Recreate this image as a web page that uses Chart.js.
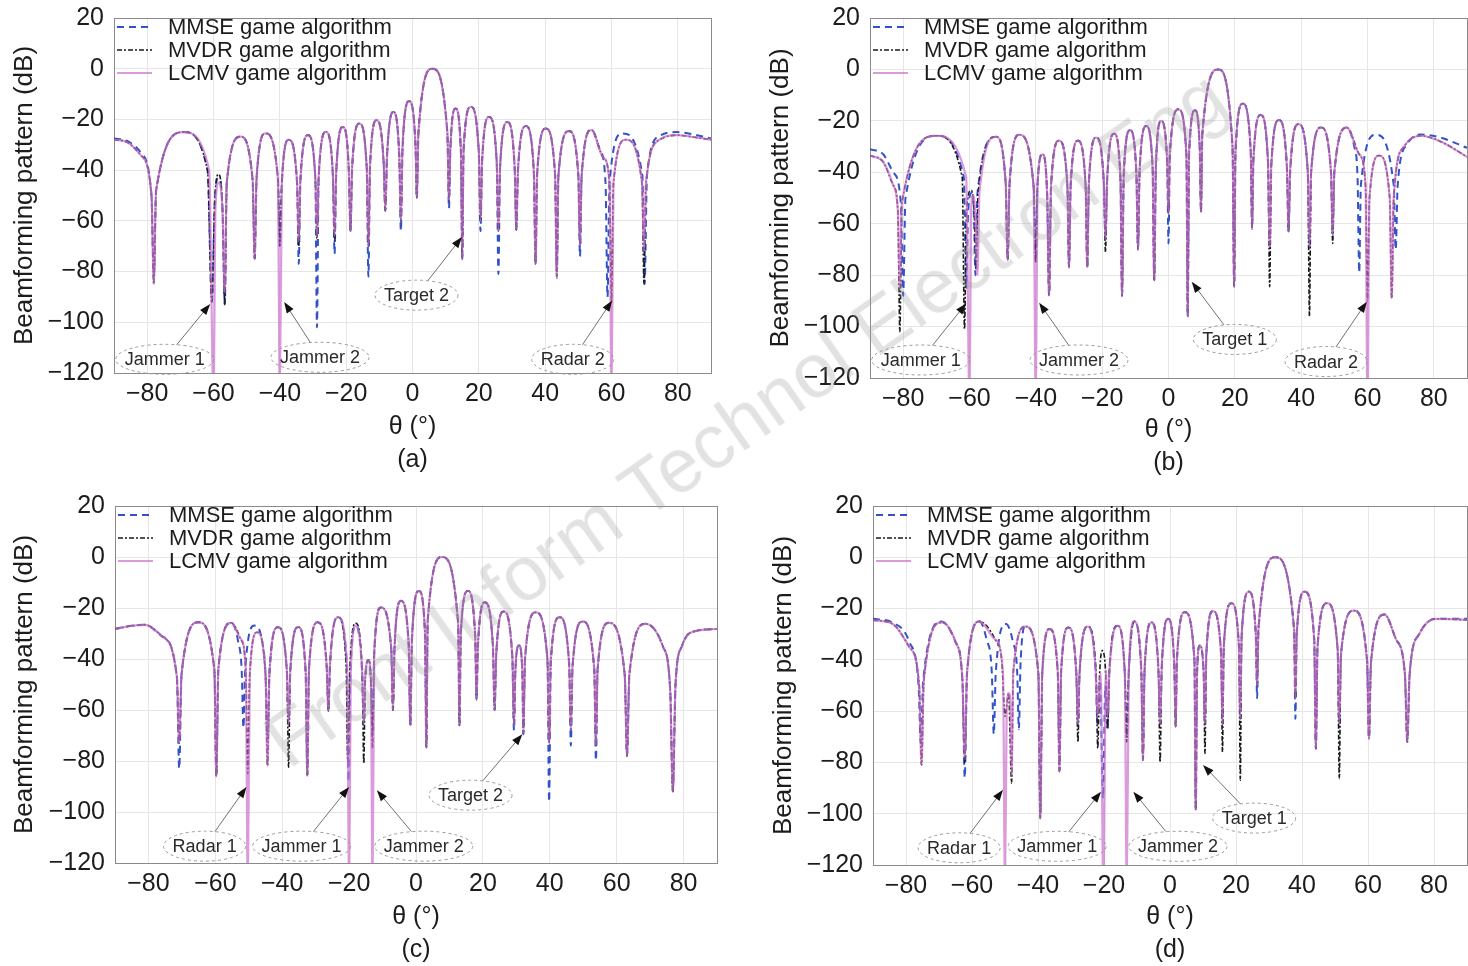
<!DOCTYPE html>
<html>
<head>
<meta charset="utf-8">
<script src="https://cdn.jsdelivr.net/npm/chart.js@4.4.1/dist/chart.umd.min.js"></script>
<style>
  html, body { margin: 0; padding: 0; background: #fff; }
  #wrap { position: relative; width: 1468px; height: 966px; overflow: hidden; }
  canvas { position: absolute; }
  #wm {
    position: absolute; left: 745px; top: 418px;
    transform: translate(-50%, -50%) rotate(-35deg);
    font: 76px "Liberation Sans", Arial, sans-serif;
    color: rgba(150, 150, 150, 0.28);
    white-space: nowrap; pointer-events: none;
  }
</style>
</head>
<body>
<div id="wrap">
  <canvas id="pa" width="734" height="483" style="left:0;top:0"></canvas>
  <canvas id="pb" width="734" height="483" style="left:734px;top:0"></canvas>
  <canvas id="pc" width="734" height="483" style="left:0;top:483px"></canvas>
  <canvas id="pd" width="734" height="483" style="left:734px;top:483px"></canvas>
  <div id="wm">Front Inform Technol Electron Eng</div>
</div>
<script>
'use strict';

const seriesNames = ['MMSE game algorithm', 'MVDR game algorithm', 'LCMV game algorithm'];
const xTicks = [-80, -60, -40, -20, 0, 20, 40, 60, 80];
const yTicks = [-120, -100, -80, -60, -40, -20, 0, 20];

// panel (a): [theta, dB]
const mmseA = [[-90,-27.5],[-86,-28.5],[-82,-33],[-78.7,-50],[-78,-82],[-77.3,-48],[-69,-25],[-61.8,-40],[-60.5,-92],[-59.6,-52],[-58.5,-43],[-57.3,-55],[-56.6,-93],[-56,-45],[-51.9,-26.8],[-48.2,-44],[-47.6,-75],[-47,-43],[-44.3,-25.5],[-40.6,-43],[-40,-70],[-39.4,-45],[-37.3,-28],[-34.8,-45],[-34.3,-77],[-33.8,-44],[-31.5,-26.2],[-29.3,-43],[-28.8,-102],[-28.3,-43],[-26.1,-24.9],[-24,-42],[-23.5,-73],[-23,-41],[-21,-23],[-19.2,-40],[-18.7,-64],[-18.2,-39],[-16,-21.6],[-13.8,-39],[-13.3,-82],[-12.8,-38],[-10.8,-20.3],[-8.7,-37],[-8.2,-56],[-7.7,-35],[-5.8,-17],[-4,-34],[-3.5,-64],[-3,-31],[-1,-12.8],[0.9,-30],[1.3,-51],[1.8,-25],[6,0],[10.5,-25],[11,-55],[11.4,-32],[13,-15.7],[14.6,-33],[15,-75],[15.4,-32],[17.6,-15],[20,-33],[20.5,-64],[21,-36],[23.1,-19],[25.4,-37],[25.9,-81],[26.4,-39],[28.6,-21],[30.8,-39],[31.3,-63.5],[31.8,-40],[34.2,-22.6],[36.6,-41],[37.1,-77],[37.6,-41],[40.2,-23.6],[43,-42],[43.5,-80],[44,-42],[47.2,-24.6],[50,-42],[50.5,-74],[51,-42],[54,-24],[56.5,-32],[58.2,-45],[58.8,-90],[59.4,-45],[63.3,-25.5],[69.3,-42],[70,-85],[70.7,-42],[74.5,-26.5],[79.5,-25],[85,-26],[90,-27.5]];
const mvdrA = [[-90,-28],[-86,-29],[-82,-34],[-78.7,-50],[-78,-85],[-77.3,-48],[-69,-25],[-61.8,-40],[-60.5,-92],[-59.6,-52],[-58.5,-41.6],[-57.3,-55],[-56.6,-93],[-56,-45],[-51.9,-26.8],[-48.2,-44],[-47.6,-75],[-47,-43],[-44.3,-25.5],[-40.6,-43],[-40,-70],[-39.4,-45],[-37.3,-28],[-34.8,-45],[-34.3,-70],[-33.8,-44],[-31.5,-26.2],[-29.3,-43],[-28.8,-67],[-28.3,-43],[-26.1,-24.9],[-24,-42],[-23.5,-68],[-23,-41],[-21,-23],[-19.2,-40],[-18.7,-64],[-18.2,-39],[-16,-21.6],[-13.8,-39],[-13.3,-70],[-12.8,-38],[-10.8,-20.3],[-8.7,-37],[-8.2,-56],[-7.7,-35],[-5.8,-17],[-4,-34],[-3.5,-60],[-3,-31],[-1,-12.8],[0.9,-30],[1.3,-51],[1.8,-25],[6,0],[10.5,-25],[11,-52],[11.4,-32],[13,-15.7],[14.6,-33],[15,-75],[15.4,-32],[17.6,-15],[20,-33],[20.5,-60],[21,-36],[23.1,-19],[25.4,-37],[25.9,-64],[26.4,-39],[28.6,-21],[30.8,-39],[31.3,-63.5],[31.8,-40],[34.2,-22.6],[36.6,-41],[37.1,-77],[37.6,-41],[40.2,-23.6],[43,-42],[43.5,-82.5],[44,-42],[47.2,-24.6],[50,-42],[50.5,-70],[51,-42],[54,-24.2],[57.5,-35],[59.4,-45],[60,-92],[60.6,-45],[64.3,-28],[69.2,-45],[69.8,-85],[70.4,-45],[74.5,-28],[79.5,-26.2],[85,-27],[90,-28]];
const lcmvA = [[-90,-28],[-86,-29],[-82,-34],[-78.7,-50],[-78,-85],[-77.3,-48],[-69,-25],[-61.3,-40],[-60,-130],[-59.4,-55],[-58.5,-45],[-57.3,-55],[-56.6,-88],[-56,-45],[-51.9,-26.8],[-48.2,-44],[-47.6,-75],[-47,-43],[-44.3,-25.5],[-40.6,-43],[-40,-130],[-39.4,-45],[-37.3,-28],[-34.8,-45],[-34.3,-68],[-33.8,-44],[-31.5,-26.2],[-29.3,-43],[-28.8,-66],[-28.3,-43],[-26.1,-24.9],[-24,-42],[-23.5,-66],[-23,-41],[-21,-23],[-19.2,-40],[-18.7,-64],[-18.2,-39],[-16,-21.6],[-13.8,-39],[-13.3,-70],[-12.8,-38],[-10.8,-20.3],[-8.7,-37],[-8.2,-56],[-7.7,-35],[-5.8,-17],[-4,-34],[-3.5,-60],[-3,-31],[-1,-12.8],[0.9,-30],[1.3,-51],[1.8,-25],[6,0],[10.5,-25],[11,-52],[11.4,-32],[13,-15.7],[14.6,-33],[15,-75],[15.4,-32],[17.6,-15],[20,-33],[20.5,-60],[21,-36],[23.1,-19],[25.4,-37],[25.9,-64],[26.4,-39],[28.6,-21],[30.8,-39],[31.3,-63.5],[31.8,-40],[34.2,-22.6],[36.6,-41],[37.1,-77],[37.6,-41],[40.2,-23.6],[43,-42],[43.5,-82.5],[44,-42],[47.2,-24.6],[50,-42],[50.5,-70],[51,-42],[54,-24.2],[57.5,-35],[59.4,-45],[60,-130],[60.6,-45],[64.3,-28],[69.2,-45],[69.8,-72],[70.4,-45],[74.5,-28],[79.5,-26.2],[85,-27],[90,-28]];
const notesA = [
  {text: 'Jammer 1', x: -74.7, y: -114.6, tx: -61, ty: -92.8},
  {text: 'Jammer 2', x: -27.9, y: -113.8, tx: -38.7, ty: -92},
  {text: 'Target 2', x: 1.2, y: -89.3, tx: 14.9, ty: -66.4},
  {text: 'Radar 2', x: 48.3, y: -114.6, tx: 60.2, ty: -91.4}
];

// panel (b)
const mmseB = [[-90,-31],[-86,-33],[-83,-40],[-80.7,-52],[-80,-88],[-79.3,-50],[-70,-25.8],[-61.7,-42],[-61,-85],[-60.4,-55],[-59.3,-48],[-58.7,-55],[-58.2,-80],[-57.6,-48],[-52,-26.2],[-49.1,-44],[-48.5,-74],[-47.9,-44],[-45,-25.4],[-40.7,-45],[-40,-75],[-39.5,-45],[-38,-33],[-36.6,-48],[-36,-88],[-35.4,-45],[-33,-27.7],[-30.5,-45],[-30,-77],[-29.5,-45],[-27.3,-27.7],[-25,-45],[-24.5,-77],[-24,-44],[-21.8,-26.5],[-19.5,-44],[-19,-66],[-18.5,-43],[-16.4,-25],[-14.5,-42],[-14,-88],[-13.5,-41],[-11.6,-23.6],[-9.7,-40],[-9.2,-70],[-8.7,-39],[-6.7,-22],[-4.8,-38],[-4.3,-82],[-3.8,-37],[-2.2,-20],[-0.4,-36],[0,-67.7],[0.4,-33],[3,-15.5],[5.4,-33],[5.8,-96],[6.2,-33],[8,-15.9],[9.4,-30],[9.8,-55.5],[10.2,-25],[15,0],[19.3,-30],[19.8,-84.5],[20.2,-32],[22.4,-13.3],[24.8,-32],[25.2,-62],[25.6,-35],[27.8,-17.7],[30,-36],[30.5,-69],[31,-37],[33.3,-19.7],[35.7,-38],[36.2,-63],[36.7,-39],[39.2,-21.3],[42,-40],[42.5,-69],[43,-40],[46,-22.6],[49,-40],[49.5,-64],[50,-40],[53.8,-22.6],[56,-30],[57,-42],[57.5,-79],[58,-45],[62.5,-25.4],[67.9,-45],[68.5,-70],[69.1,-45],[72,-29],[76,-25.3],[82,-26.5],[90,-30.5]];
const mvdrB = [[-90,-33.5],[-86,-36],[-83,-45],[-81.6,-55],[-81,-102],[-80.4,-52],[-70,-25.8],[-62.2,-42],[-61.5,-101],[-60.9,-55],[-59.5,-47],[-58.6,-55],[-58,-78],[-57.4,-48],[-52,-26.2],[-49.1,-44],[-48.5,-74],[-47.9,-44],[-45,-25.4],[-40.7,-45],[-40,-75],[-39.5,-45],[-38,-33],[-36.6,-48],[-36,-88],[-35.4,-45],[-33,-27.7],[-30.5,-45],[-30,-77],[-29.5,-45],[-27.3,-27.7],[-25,-45],[-24.5,-77],[-24,-44],[-21.8,-26.5],[-19.5,-44],[-19,-71],[-18.5,-43],[-16.4,-25],[-14.5,-42],[-14,-88],[-13.5,-41],[-11.6,-23.6],[-9.7,-40],[-9.2,-70],[-8.7,-39],[-6.7,-22],[-4.8,-38],[-4.3,-82],[-3.8,-37],[-2.2,-20],[-0.4,-36],[0,-56],[0.4,-33],[3,-15.5],[5.4,-33],[5.8,-96],[6.2,-33],[8,-15.9],[9.4,-30],[9.8,-55.5],[10.2,-25],[15,0],[19.3,-30],[19.8,-84.5],[20.2,-32],[22.4,-13.3],[24.8,-32],[25.2,-62],[25.6,-35],[27.8,-17.7],[30,-36],[30.5,-84.5],[31,-37],[33.3,-19.7],[35.7,-38],[36.2,-63],[36.7,-39],[39.2,-21.3],[42,-40],[42.5,-96],[43,-40],[46,-22.6],[49,-40],[49.5,-67.7],[50,-40],[53.8,-22.6],[57.5,-33],[59.4,-45],[60,-90],[60.6,-50],[63.5,-33.5],[66.7,-50],[67.3,-89],[67.9,-50],[71,-30],[76,-25.8],[82,-28],[90,-34]];
const lcmvB = [[-90,-33.5],[-86,-36],[-83,-45],[-81.6,-55],[-81,-85],[-80.4,-52],[-70,-25.8],[-61,-42],[-60,-130],[-59.5,-55],[-59,-49],[-58.3,-55],[-57.6,-80],[-57,-48],[-52,-26.2],[-49.1,-44],[-48.5,-74],[-47.9,-44],[-45,-25.4],[-40.7,-45],[-40,-130],[-39.5,-45],[-38,-33],[-36.6,-48],[-36,-88],[-35.4,-45],[-33,-27.7],[-30.5,-45],[-30,-77],[-29.5,-45],[-27.3,-27.7],[-25,-45],[-24.5,-77],[-24,-44],[-21.8,-26.5],[-19.5,-44],[-19,-66],[-18.5,-43],[-16.4,-25],[-14.5,-42],[-14,-88],[-13.5,-41],[-11.6,-23.6],[-9.7,-40],[-9.2,-70],[-8.7,-39],[-6.7,-22],[-4.8,-38],[-4.3,-82],[-3.8,-37],[-2.2,-20],[-0.4,-36],[0,-56],[0.4,-33],[3,-15.5],[5.4,-33],[5.8,-96],[6.2,-33],[8,-15.9],[9.4,-30],[9.8,-55.5],[10.2,-25],[15,0],[19.3,-30],[19.8,-84.5],[20.2,-32],[22.4,-13.3],[24.8,-32],[25.2,-62],[25.6,-35],[27.8,-17.7],[30,-36],[30.5,-69],[31,-37],[33.3,-19.7],[35.7,-38],[36.2,-63],[36.7,-39],[39.2,-21.3],[42,-40],[42.5,-69],[43,-40],[46,-22.6],[49,-40],[49.5,-64],[50,-40],[53.8,-22.6],[57.5,-33],[59.4,-45],[60,-130],[60.6,-50],[63.5,-33.5],[66.7,-50],[67.3,-89],[67.9,-50],[71,-30],[76,-25.8],[82,-28],[90,-34]];
const notesB = [
  {text: 'Jammer 1', x: -74.7, y: -113, tx: -61, ty: -91},
  {text: 'Jammer 2', x: -27, y: -113, tx: -39, ty: -90.7},
  {text: 'Target 1', x: 20, y: -105, tx: 7, ty: -82.6},
  {text: 'Radar 2', x: 47.5, y: -113.6, tx: 59.8, ty: -90.3}
];

// panel (c)
const mmseC = [[-90,-28.2],[-85,-27],[-81,-26.6],[-76,-31],[-71.5,-47],[-70.8,-83],[-70.1,-46],[-65.1,-25.6],[-60.3,-44],[-59.7,-86],[-59.1,-44],[-55.2,-25.8],[-53.2,-33],[-52.1,-45],[-51.6,-67],[-51.1,-45],[-48.3,-26.9],[-46,-33],[-45,-46],[-44.4,-70],[-43.8,-45],[-41.3,-27.5],[-38.6,-45],[-38.1,-65.6],[-37.6,-45],[-35.2,-27.5],[-33,-45],[-32.5,-85.7],[-32,-44],[-29.4,-25.6],[-26.7,-43],[-26.2,-60.5],[-25.7,-42],[-23.3,-23.6],[-20.7,-42],[-20.2,-88],[-19.6,-45],[-18,-26.9],[-16.1,-45],[-15.6,-65],[-15.2,-48],[-14.2,-40.4],[-13.5,-48],[-13,-70],[-12.5,-38],[-10.5,-19.8],[-7.4,-36],[-6.9,-60],[-6.4,-35],[-4.5,-17.2],[-2.2,-34],[-1.7,-66],[-1.2,-32],[0.9,-13.3],[2.7,-30],[3.1,-74.7],[3.5,-25],[7.8,0],[12.6,-26],[13,-66],[13.4,-30],[15.5,-13.3],[17.7,-31],[18.1,-56],[18.5,-35],[20.6,-17.8],[23,-35],[23.5,-60],[24,-38],[26.2,-21.4],[28.8,-39],[29.3,-68],[29.7,-45],[30.8,-34.6],[31.8,-45],[32.1,-69.5],[32.6,-40],[35.8,-21.7],[39.3,-40],[39.8,-96],[40.3,-41],[42.9,-23.6],[45.8,-42],[46.3,-74],[46.8,-43],[49.8,-25.3],[53.3,-44],[53.8,-79.8],[54.3,-44],[57.6,-25.8],[62.4,-46],[63.1,-78],[63.8,-46],[68.6,-26.2],[73.8,-35],[76,-52],[76.8,-92],[77.6,-50],[79.5,-35],[82,-29.7],[90,-28.2]];
const mvdrC = [[-90,-28.2],[-85,-27],[-81,-26.6],[-76,-31],[-71.5,-47],[-70.8,-73],[-70.1,-46],[-65.1,-25.6],[-60.3,-44],[-59.7,-86],[-59.1,-44],[-55.2,-25.8],[-52.5,-32],[-50.9,-44],[-50.3,-85],[-49.7,-46],[-47.5,-29.5],[-45,-46],[-44.4,-81.8],[-43.8,-45],[-41.3,-27.5],[-38.6,-45],[-38.1,-82.4],[-37.6,-45],[-35.2,-27.5],[-33,-45],[-32.5,-85.7],[-32,-44],[-29.4,-25.6],[-26.7,-43],[-26.2,-60.5],[-25.7,-42],[-23.3,-23.6],[-20.9,-42],[-20.4,-80],[-19.8,-45],[-18,-26],[-16.1,-45],[-15.6,-81],[-15.2,-48],[-14.2,-40.4],[-13.5,-48],[-13,-75],[-12.5,-38],[-10.5,-19.8],[-7.4,-36],[-6.9,-60],[-6.4,-35],[-4.5,-17.2],[-2.2,-34],[-1.7,-66],[-1.2,-32],[0.9,-13.3],[2.7,-30],[3.1,-74.7],[3.5,-25],[7.8,0],[12.6,-26],[13,-66],[13.4,-30],[15.5,-13.3],[17.7,-31],[18.1,-56],[18.5,-35],[20.6,-17.8],[23,-35],[23.5,-60],[24,-38],[26.2,-21.4],[28.8,-39],[29.3,-66],[29.7,-45],[30.8,-34.6],[31.8,-45],[32.1,-69.5],[32.6,-40],[35.8,-21.7],[39.3,-40],[39.8,-73],[40.3,-41],[42.9,-23.6],[45.8,-42],[46.3,-68],[46.8,-43],[49.8,-25.3],[53.3,-44],[53.8,-74],[54.3,-44],[57.6,-25.8],[62.4,-46],[63.1,-78],[63.8,-46],[68.6,-26.2],[73.8,-35],[76,-52],[76.8,-92],[77.6,-50],[79.5,-35],[82,-29.7],[90,-28.2]];
const lcmvC = [[-90,-28.2],[-85,-27],[-81,-26.6],[-76,-31],[-71.5,-47],[-70.8,-73],[-70.1,-46],[-65.1,-25.6],[-60.3,-44],[-59.7,-86],[-59.1,-44],[-55.2,-25.8],[-52.5,-32],[-50.9,-44],[-50.3,-130],[-49.7,-46],[-47.5,-29.5],[-45,-46],[-44.4,-81.8],[-43.8,-45],[-41.3,-27.5],[-38.6,-45],[-38.1,-65.6],[-37.6,-45],[-35.2,-27.5],[-33,-45],[-32.5,-85.7],[-32,-44],[-29.4,-25.6],[-26.7,-43],[-26.2,-60.5],[-25.7,-42],[-23.3,-23.6],[-20.6,-42],[-20,-130],[-19.5,-45],[-18,-26.9],[-16.1,-45],[-15.6,-65],[-15.2,-48],[-14.2,-40.4],[-13.5,-48],[-13,-130],[-12.5,-38],[-10.5,-19.8],[-7.4,-36],[-6.9,-60],[-6.4,-35],[-4.5,-17.2],[-2.2,-34],[-1.7,-66],[-1.2,-32],[0.9,-13.3],[2.7,-30],[3.1,-74.7],[3.5,-25],[7.8,0],[12.6,-26],[13,-66],[13.4,-30],[15.5,-13.3],[17.7,-31],[18.1,-56],[18.5,-35],[20.6,-17.8],[23,-35],[23.5,-60],[24,-38],[26.2,-21.4],[28.8,-39],[29.3,-66],[29.7,-45],[30.8,-34.6],[31.8,-45],[32.1,-69.5],[32.6,-40],[35.8,-21.7],[39.3,-40],[39.8,-73],[40.3,-41],[42.9,-23.6],[45.8,-42],[46.3,-68],[46.8,-43],[49.8,-25.3],[53.3,-44],[53.8,-74],[54.3,-44],[57.6,-25.8],[62.4,-46],[63.1,-78],[63.8,-46],[68.6,-26.2],[73.8,-35],[76,-52],[76.8,-92],[77.6,-50],[79.5,-35],[82,-29.7],[90,-28.2]];
const notesC = [
  {text: 'Radar 1', x: -63.2, y: -113.4, tx: -50.7, ty: -90.2},
  {text: 'Jammer 1', x: -34.2, y: -113.4, tx: -20, ty: -90.2},
  {text: 'Jammer 2', x: 2.3, y: -113.4, tx: -11.7, ty: -91.5},
  {text: 'Target 2', x: 16.3, y: -93.4, tx: 31.8, ty: -69.5}
];

// panel (d)
const mmseD = [[-90,-24],[-84,-25.5],[-79,-33],[-76.2,-50],[-75.5,-72.5],[-74.8,-48],[-69.2,-25],[-65,-33],[-62.9,-48],[-62.2,-86],[-61.5,-45],[-57.7,-25],[-55.6,-32],[-54,-45],[-53.4,-69],[-52.8,-45],[-49.7,-26],[-47.6,-33],[-46.3,-45],[-45.8,-67],[-45.3,-42],[-43.8,-27],[-39.9,-45],[-39.3,-100],[-38.7,-45],[-36.5,-28],[-34,-45],[-33.5,-83.5],[-33,-45],[-30.8,-27.4],[-28.4,-45],[-27.9,-65],[-27.4,-45],[-24.9,-27],[-22.5,-45],[-22,-65],[-21.2,-48],[-20.3,-94],[-19.6,-50],[-18.9,-67],[-18.4,-45],[-15.9,-26.7],[-13.7,-45],[-13.1,-70],[-12.5,-45],[-10.9,-25],[-8.7,-44],[-8.2,-79],[-7.7,-44],[-5.6,-25.4],[-3.5,-44],[-3,-65],[-2.5,-43],[-0.6,-24],[1.3,-42],[1.7,-66],[2.1,-40],[4.5,-21.4],[7.4,-40],[7.8,-98.6],[8.2,-45],[9,-34.4],[10.2,-45],[10.6,-65],[11,-38],[13,-21],[15.5,-38],[15.9,-65],[16.3,-35],[18.6,-17.9],[20.9,-35],[21.3,-63],[21.7,-31],[23.9,-13.4],[26,-30],[26.4,-55],[26.8,-28],[31.9,0],[37.6,-28],[38,-63],[38.4,-30],[40.8,-13.4],[43.7,-32],[44.2,-74.6],[44.7,-35],[47.6,-17.9],[50.8,-36],[51.3,-65],[51.8,-38],[55.7,-20.8],[59.7,-40],[60.3,-70.7],[60.9,-41],[65,-22.3],[68.5,-32],[71.2,-46],[71.9,-72],[72.6,-46],[75.5,-30],[80.4,-24],[90,-24]];
const mvdrD = [[-90,-24.5],[-84,-26],[-79,-35],[-76,-50],[-75.3,-81],[-74.6,-48],[-69.2,-25.4],[-65,-33],[-62.9,-48],[-62.2,-80],[-61.5,-45],[-57.7,-25],[-53,-32],[-51,-40],[-50,-62],[-48.9,-53],[-48,-88],[-47.5,-45],[-43.8,-27],[-39.9,-45],[-39.3,-102],[-38.7,-45],[-36.5,-28],[-34,-45],[-33.5,-83.5],[-33,-45],[-30.8,-27.4],[-28.4,-45],[-27.9,-72],[-27.4,-45],[-24.9,-27],[-22.4,-45],[-21.9,-74.5],[-21.3,-45],[-20.4,-36.4],[-19.5,-45],[-18.9,-67],[-18.4,-45],[-15.9,-26.7],[-13.7,-45],[-13.1,-72],[-12.5,-45],[-10.9,-25],[-8.7,-44],[-8.2,-79],[-7.7,-44],[-5.6,-25.4],[-3.5,-44],[-3,-80],[-2.5,-43],[-0.6,-24],[1.3,-42],[1.7,-66],[2.1,-40],[4.5,-21.4],[7.4,-40],[7.8,-98.6],[8.2,-45],[9,-34.4],[10.2,-45],[10.6,-76.5],[11,-38],[13,-21],[15.5,-38],[15.9,-75.9],[16.3,-35],[18.6,-17.9],[20.9,-35],[21.3,-86.9],[21.7,-31],[23.9,-13.4],[26,-30],[26.4,-50],[26.8,-28],[31.9,0],[37.6,-28],[38,-55],[38.4,-30],[40.8,-13.4],[43.7,-32],[44.2,-74.6],[44.7,-35],[47.6,-17.9],[50.8,-36],[51.3,-86.3],[51.8,-38],[55.7,-20.8],[59.7,-40],[60.3,-70.7],[60.9,-41],[65,-22.3],[68.5,-32],[71.2,-46],[71.9,-72],[72.6,-46],[75.5,-30],[80.4,-24],[90,-24.4]];
const lcmvD = [[-90,-24.5],[-84,-26],[-79,-35],[-76,-50],[-75.3,-81],[-74.6,-48],[-69.2,-25.4],[-65,-33],[-62.9,-48],[-62.2,-78],[-61.5,-45],[-57.7,-25],[-53,-32],[-50.6,-45],[-50,-130],[-49.5,-60],[-48.8,-53],[-48.3,-60],[-48,-85],[-47.5,-45],[-43.8,-27],[-39.9,-45],[-39.3,-102],[-38.7,-45],[-36.5,-28],[-34,-45],[-33.5,-83.5],[-33,-45],[-30.8,-27.4],[-28.4,-45],[-27.9,-65],[-27.4,-45],[-24.9,-27],[-22.5,-45],[-22,-62],[-21,-45],[-20.2,-130],[-19.4,-44],[-18.9,-62],[-18.4,-45],[-15.9,-26.7],[-13.7,-45],[-13.1,-130],[-12.5,-45],[-10.9,-25],[-8.7,-44],[-8.2,-79],[-7.7,-44],[-5.6,-25.4],[-3.5,-44],[-3,-65],[-2.5,-43],[-0.6,-24],[1.3,-42],[1.7,-66],[2.1,-40],[4.5,-21.4],[7.4,-40],[7.8,-98.6],[8.2,-45],[9,-34.4],[10.2,-45],[10.6,-65],[11,-38],[13,-21],[15.5,-38],[15.9,-65],[16.3,-35],[18.6,-17.9],[20.9,-35],[21.3,-63],[21.7,-31],[23.9,-13.4],[26,-30],[26.4,-50],[26.8,-28],[31.9,0],[37.6,-28],[38,-55],[38.4,-30],[40.8,-13.4],[43.7,-32],[44.2,-74.6],[44.7,-35],[47.6,-17.9],[50.8,-36],[51.3,-65],[51.8,-38],[55.7,-20.8],[59.7,-40],[60.3,-70.7],[60.9,-41],[65,-22.3],[68.5,-32],[71.2,-46],[71.9,-72],[72.6,-46],[75.5,-30],[80.4,-24],[90,-24.4]];
const notesD = [
  {text: 'Radar 1', x: -63.9, y: -113.3, tx: -50.6, ty: -90.7},
  {text: 'Jammer 1', x: -34.2, y: -112.7, tx: -20.9, ty: -91.4},
  {text: 'Jammer 2', x: 2.4, y: -112.7, tx: -11.1, ty: -91.4},
  {text: 'Target 1', x: 25.5, y: -101.7, tx: 10, ty: -81}
];

const FONT = '"Liberation Sans", Arial, Helvetica, sans-serif';
const INK = '#1c1c1c';
Chart.defaults.font.family = FONT;
Chart.defaults.color = INK;

function minus(v) {
  return v < 0 ? '\u2212' + Math.abs(v) : String(v);
}

function toPoints(pairs) {
  return pairs.map(p => ({x: p[0], y: p[1]}));
}

// legend drawn inside the plot, top left, like the matlab one
const insideLegend = {
  id: 'insideLegend',
  afterDatasetsDraw(chart) {
    const ctx = chart.ctx;
    const area = chart.chartArea;
    chart.data.datasets.forEach((ds, i) => {
      const y = area.top + 9 + i * 23;
      const x0 = area.left + 3;
      ctx.save();
      ctx.strokeStyle = ds.borderColor;
      ctx.lineWidth = ds.borderWidth;
      ctx.setLineDash(ds.borderDash || []);
      ctx.beginPath();
      ctx.moveTo(x0, y);
      ctx.lineTo(x0 + 35, y);
      ctx.stroke();
      ctx.setLineDash([]);
      ctx.font = '22px ' + FONT;
      ctx.fillStyle = INK;
      ctx.textBaseline = 'middle';
      ctx.fillText(ds.label, x0 + 51, y + 1);
      ctx.restore();
    });
  }
};

// ellipse labels with arrows pointing at the nulls
const calloutPlugin = {
  id: 'callouts',
  afterDatasetsDraw(chart, args, opts) {
    const ctx = chart.ctx;
    const xs = chart.scales.x;
    const ys = chart.scales.y;
    (opts.items || []).forEach(n => {
      const cx = xs.getPixelForValue(n.x);
      const cy = ys.getPixelForValue(n.y);
      const tx = xs.getPixelForValue(n.tx);
      const ty = ys.getPixelForValue(n.ty);
      ctx.save();
      ctx.font = '18px ' + FONT;
      const w = ctx.measureText(n.text).width;
      const rx = w / 2 + 9;
      const ry = 15;
      const t = Math.atan2((ty - cy) / ry, (tx - cx) / rx);
      const sx = cx + rx * Math.cos(t);
      const sy = cy + ry * Math.sin(t);
      const ang = Math.atan2(ty - sy, tx - sx);

      ctx.strokeStyle = '#707070';
      ctx.lineWidth = 1;
      ctx.beginPath();
      ctx.moveTo(sx, sy);
      ctx.lineTo(tx - Math.cos(ang) * 6, ty - Math.sin(ang) * 6);
      ctx.stroke();

      ctx.fillStyle = '#111';
      ctx.beginPath();
      ctx.moveTo(tx, ty);
      ctx.lineTo(tx - 11 * Math.cos(ang) + 4 * Math.sin(ang), ty - 11 * Math.sin(ang) - 4 * Math.cos(ang));
      ctx.lineTo(tx - 11 * Math.cos(ang) - 4 * Math.sin(ang), ty - 11 * Math.sin(ang) + 4 * Math.cos(ang));
      ctx.closePath();
      ctx.fill();

      ctx.setLineDash([3, 3]);
      ctx.strokeStyle = '#9a9a9a';
      ctx.beginPath();
      ctx.ellipse(cx, cy, rx, ry, 0, 0, Math.PI * 2);
      ctx.stroke();
      ctx.setLineDash([]);

      ctx.fillStyle = '#2a2a2a';
      ctx.textAlign = 'center';
      ctx.textBaseline = 'middle';
      ctx.fillText(n.text, cx, cy + 1);
      ctx.restore();
    });
  }
};

function makeChart(id, mmse, mvdr, lcmv, notes, caption, L) {
  const ctx = document.getElementById(id).getContext('2d');
  new Chart(ctx, {
    type: 'line',
    data: {
      datasets: [
        {label: seriesNames[0], data: toPoints(mmse), borderColor: '#3253c8', borderWidth: 2, borderDash: [7, 5], order: 2},
        {label: seriesNames[1], data: toPoints(mvdr), borderColor: '#1a1a1a', borderWidth: 1.6, borderDash: [5, 2, 2, 2], order: 1},
        {label: seriesNames[2], data: toPoints(lcmv), borderColor: 'rgba(205, 115, 205, 0.72)', borderWidth: 2.2, order: 0}
      ]
    },
    options: {
      responsive: false,
      animation: false,
      layout: {padding: {left: L.padL, right: L.padR, top: L.padT, bottom: 0}},
      elements: {
        point: {radius: 0, hoverRadius: 0},
        line: {cubicInterpolationMode: 'monotone', fill: false}
      },
      scales: {
        x: {
          type: 'linear', position: 'bottom', min: -90, max: 90,
          afterBuildTicks: s => { s.ticks = xTicks.map(v => ({value: v})); },
          afterFit: s => { s.height = L.xh; s.paddingLeft = 0; s.paddingRight = 0; },
          grid: {color: '#e6e6e6', drawTicks: false},
          border: {display: true, color: '#8a8a8a'},
          ticks: {padding: 6, font: {size: 25}, color: INK, maxRotation: 0, autoSkip: false, callback: v => minus(v)},
          title: {display: true, text: ['\u03b8 (\u00b0)', caption], font: {size: 25, lineHeight: 1.3}, color: INK, padding: {top: 0, bottom: L.tb}}
        },
        y: {
          type: 'linear', position: 'left', min: -120, max: 20,
          afterBuildTicks: s => { s.ticks = yTicks.map(v => ({value: v})); },
          afterFit: s => { s.width = L.yw; s.paddingTop = 0; s.paddingBottom = 0; },
          grid: {color: '#e6e6e6', drawTicks: false},
          border: {display: true, color: '#8a8a8a'},
          ticks: {padding: 10, font: {size: 25}, color: INK, callback: v => minus(v)},
          title: {display: true, text: 'Beamforming pattern (dB)', font: {size: 26}, color: INK, padding: {top: 9, bottom: 0}}
        },
        xTop: {
          type: 'linear', axis: 'x', position: 'top', min: -90, max: 90,
          afterFit: s => { s.height = 0; s.paddingLeft = 0; s.paddingRight = 0; },
          grid: {display: false, drawTicks: false},
          border: {display: true, color: '#8a8a8a'},
          ticks: {display: false}
        },
        yRight: {
          type: 'linear', axis: 'y', position: 'right', min: -120, max: 20,
          afterFit: s => { s.width = 0; s.paddingTop = 0; s.paddingBottom = 0; },
          grid: {display: false, drawTicks: false},
          border: {display: true, color: '#8a8a8a'},
          ticks: {display: false}
        }
      },
      plugins: {
        legend: {display: false},
        tooltip: {enabled: false},
        callouts: {items: notes}
      }
    },
    plugins: [calloutPlugin, insideLegend]
  });
}

makeChart('pa', mmseA, mvdrA, lcmvA, notesA, '(a)', {padL: 0, padR: 23, padT: 18, yw: 114, xh: 110, tb: 7});
makeChart('pb', mmseB, mvdrB, lcmvB, notesB, '(b)', {padL: 22, padR: 1, padT: 18, yw: 114, xh: 105, tb: 4});
makeChart('pc', mmseC, mvdrC, lcmvC, notesC, '(c)', {padL: 0, padR: 17, padT: 23, yw: 115, xh: 103, tb: 0});
makeChart('pd', mmseD, mvdrD, lcmvD, notesD, '(d)', {padL: 25, padR: 1, padT: 23, yw: 114, xh: 101, tb: 0});
</script>
</body>
</html>
